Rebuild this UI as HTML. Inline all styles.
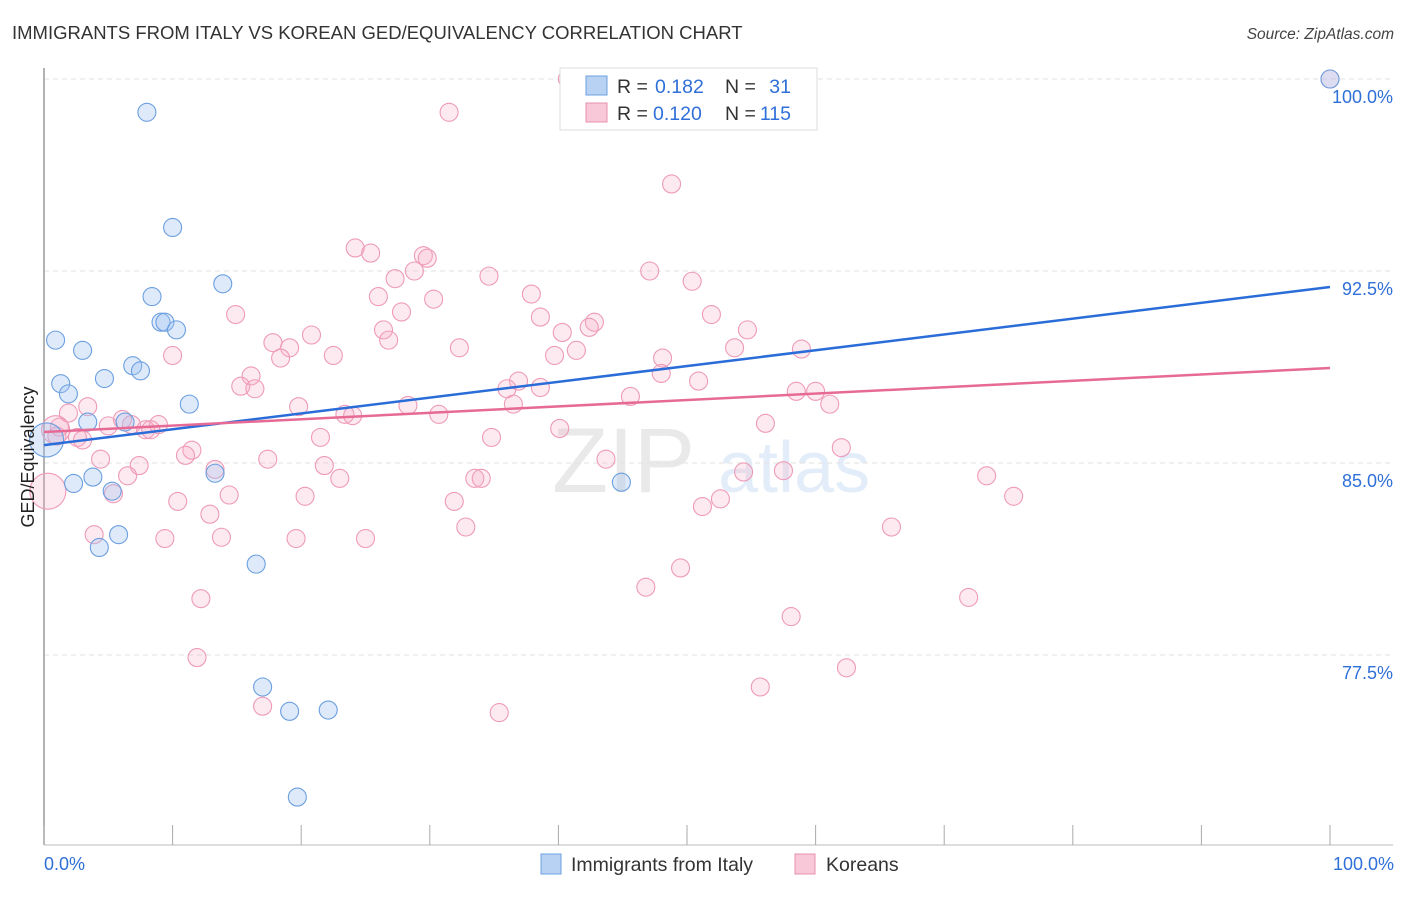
<!DOCTYPE html>
<html><head><meta charset="utf-8"><style>
body{margin:0;background:#fff;font-family:"Liberation Sans",sans-serif}
svg text{font-family:"Liberation Sans",sans-serif}
</style></head><body>
<svg id="chart" width="1406" height="892" viewBox="0 0 1406 892" xmlns="http://www.w3.org/2000/svg">
<text x="12" y="39" font-size="18.5" fill="#333">IMMIGRANTS FROM ITALY VS KOREAN GED/EQUIVALENCY CORRELATION CHART</text>
<text x="1394" y="39" font-size="15.5" fill="#444" text-anchor="end" font-style="italic">Source: ZipAtlas.com</text>
<g opacity="0.18">
<text x="552" y="492" font-size="92" font-family="Liberation Serif,serif" fill="#888">ZIP</text>
<text x="718" y="492" font-size="72" fill="#6a9fe0">atlas</text>
</g>
<g id="grid"></g>
<g id="axes"></g>
<g id="pts"></g>
<g id="trend"></g>
<g>
<rect x="560" y="68" width="257" height="62" fill="#fff" stroke="#ddd"/>
<rect x="586" y="76" width="21" height="19" fill="#b8d2f4" stroke="#6ea0e0"/>
<text x="617" y="93" font-size="19.5" fill="#333">R =</text>
<text x="655" y="93" font-size="19.5" fill="#2f6fd8">0.182</text>
<text x="725" y="93" font-size="19.5" fill="#333">N =</text>
<text x="791" y="93" font-size="19.5" fill="#2f6fd8" text-anchor="end">31</text>
<rect x="586" y="103" width="21" height="19" fill="#f9c8d8" stroke="#e890ae"/>
<text x="617" y="120" font-size="19.5" fill="#333">R =</text>
<text x="653" y="120" font-size="19.5" fill="#2f6fd8">0.120</text>
<text x="725" y="120" font-size="19.5" fill="#333">N =</text>
<text x="791" y="120" font-size="19.5" fill="#2f6fd8" text-anchor="end">115</text>
</g>
<g>
<rect x="541" y="854" width="20" height="20" fill="#b8d2f4" stroke="#6ea0e0"/>
<text x="571" y="871" font-size="19.5" fill="#333">Immigrants from Italy</text>
<rect x="795" y="854" width="20" height="20" fill="#f9c8d8" stroke="#e890ae"/>
<text x="826" y="871" font-size="19.5" fill="#333">Koreans</text>
</g>
<text transform="translate(34,457) rotate(-90)" font-size="18" fill="#222" text-anchor="middle">GED/Equivalency</text>
<text x="44" y="870" font-size="18" fill="#2f6fd8">0.0%</text>
<text x="1394" y="870" font-size="18" fill="#2f6fd8" text-anchor="end">100.0%</text>
</svg>
<script>
const italyX=[8.0,10.0,13.9,8.4,9.1,9.4,10.3,0.9,3.0,6.9,7.5,4.7,1.3,1.9,11.3,3.4,6.3,0.2,13.3,3.8,2.3,5.3,5.8,4.3,16.5,17.0,19.1,22.1,19.7,44.9,100];
const italyY=[98.7,94.2,92.0,91.5,90.5,90.5,90.2,89.8,89.4,88.8,88.6,88.3,88.1,87.7,87.3,86.6,86.6,85.9,84.6,84.45,84.2,83.9,82.2,81.7,81.05,76.25,75.3,75.35,71.95,84.25,100];
const italyBig=[17];
const koreaX=[40.7,100,31.5,48.8,24.2,25.4,29.5,29.8,28.8,34.6,47.1,50.4,27.3,26.0,30.3,37.9,14.9,27.8,38.6,51.9,42.8,42.4,20.8,26.4,26.8,40.3,54.7,17.8,19.1,18.4,22.5,32.3,39.7,41.4,53.7,58.9,10.0,48.1,48.0,16.1,15.3,16.4,36.9,36.0,38.6,50.9,45.6,58.5,60.0,61.1,3.4,1.9,19.8,28.3,36.5,30.7,23.4,24.0,6.1,5.0,6.8,8.9,7.9,8.3,1.2,1.0,2.6,3.0,56.1,21.5,34.8,40.1,11.5,11.0,4.4,17.4,7.4,13.3,21.8,6.5,23.0,33.5,34.0,43.7,54.4,57.5,62.0,73.3,75.4,5.4,14.4,20.3,10.4,31.9,51.2,52.6,12.9,65.9,3.9,9.4,13.8,19.6,25.0,32.8,49.5,46.8,12.2,71.9,58.1,11.9,62.4,55.7,17.0,35.4,0.3,0.9];
const koreaY=[100,100,98.7,95.9,93.4,93.2,93.1,93.0,92.5,92.3,92.5,92.1,92.2,91.5,91.4,91.6,90.8,90.9,90.7,90.8,90.5,90.3,90.0,90.2,89.8,90.1,90.2,89.7,89.5,89.1,89.2,89.5,89.2,89.4,89.5,89.45,89.2,89.1,88.5,88.4,88.0,87.9,88.2,87.9,87.95,88.2,87.6,87.8,87.8,87.3,87.2,86.95,87.2,87.25,87.3,86.9,86.9,86.85,86.7,86.45,86.5,86.5,86.3,86.3,86.4,86.05,86.0,85.9,86.55,86.0,86.0,86.35,85.5,85.3,85.15,85.15,84.9,84.75,84.9,84.5,84.4,84.4,84.4,85.15,84.65,84.7,85.6,84.5,83.7,83.8,83.75,83.7,83.5,83.5,83.3,83.6,83.0,82.5,82.2,82.05,82.1,82.05,82.05,82.5,80.9,80.15,79.7,79.75,79.0,77.4,77.0,76.25,75.5,75.25,83.9,86.3];
const italyTrend=[85.7,91.875];
const koreaTrend=[86.21,88.71];
const yTicks=[100,92.5,85,77.5];
const yTickLabels=["100.0%","92.5%","85.0%","77.5%"];
const xTicks=[0,10,20,30,40,50,60,70,80,90,100];

const NS="http://www.w3.org/2000/svg";
const sx=v=>44+v*12.86;
const sy=v=>79+(100-v)*25.6;
function mk(tag,attrs,parent){const e=document.createElementNS(NS,tag);for(const k in attrs)e.setAttribute(k,attrs[k]);parent.appendChild(e);return e;}
const grid=document.getElementById('grid'),axes=document.getElementById('axes'),pts=document.getElementById('pts'),trend=document.getElementById('trend');
yTicks.forEach((t,i)=>{
 const l=mk('line',{x1:44,x2:1393,y1:sy(t),y2:sy(t),stroke:'#e2e2e2','stroke-dasharray':'5,4'},grid);
 
 
 const tx=mk('text',{x:1393,y:sy(t)+24,'font-size':18,fill:'#2f6fd8','text-anchor':'end'},axes);
 tx.textContent=yTickLabels[i];
 
 
});
const ya=mk('line',{x1:44,x2:44,y1:68,y2:845,stroke:'#999','stroke-width':1.5},axes);


const xa=mk('line',{x1:44,x2:1393,y1:845,y2:845,stroke:'#bbb'},axes);


xTicks.forEach(t=>{
 const l=mk('line',{x1:sx(t),x2:sx(t),y1:825,y2:845,stroke:'#aaa'},axes);
 
 
});
koreaX.forEach((x,i)=>{
 const r=(i>=koreaX.length-2)?(i==koreaX.length-2?18:14):9;
 const c=mk('circle',{cx:sx(x),cy:sy(koreaY[i]),r:r,fill:'rgba(246,170,196,0.25)',stroke:'#ee9ab8','stroke-width':1.1},pts);
 
 
});
italyX.forEach((x,i)=>{
 const r=(i==17)?italyBig[0]:9;
 const c=mk('circle',{cx:sx(x),cy:sy(italyY[i]),r:r,fill:'rgba(160,196,240,0.35)',stroke:'#6b9fe0','stroke-width':1.1},pts);
 
 
});
const tb=mk('line',{x1:sx(0),y1:sy(italyTrend[0]),x2:sx(100),y2:sy(italyTrend[1]),stroke:'#2a6dd9','stroke-width':2.5},trend);


const tp=mk('line',{x1:sx(0),y1:sy(koreaTrend[0]),x2:sx(100),y2:sy(koreaTrend[1]),stroke:'#e66a95','stroke-width':2.5},trend);


</script>
</body></html>
